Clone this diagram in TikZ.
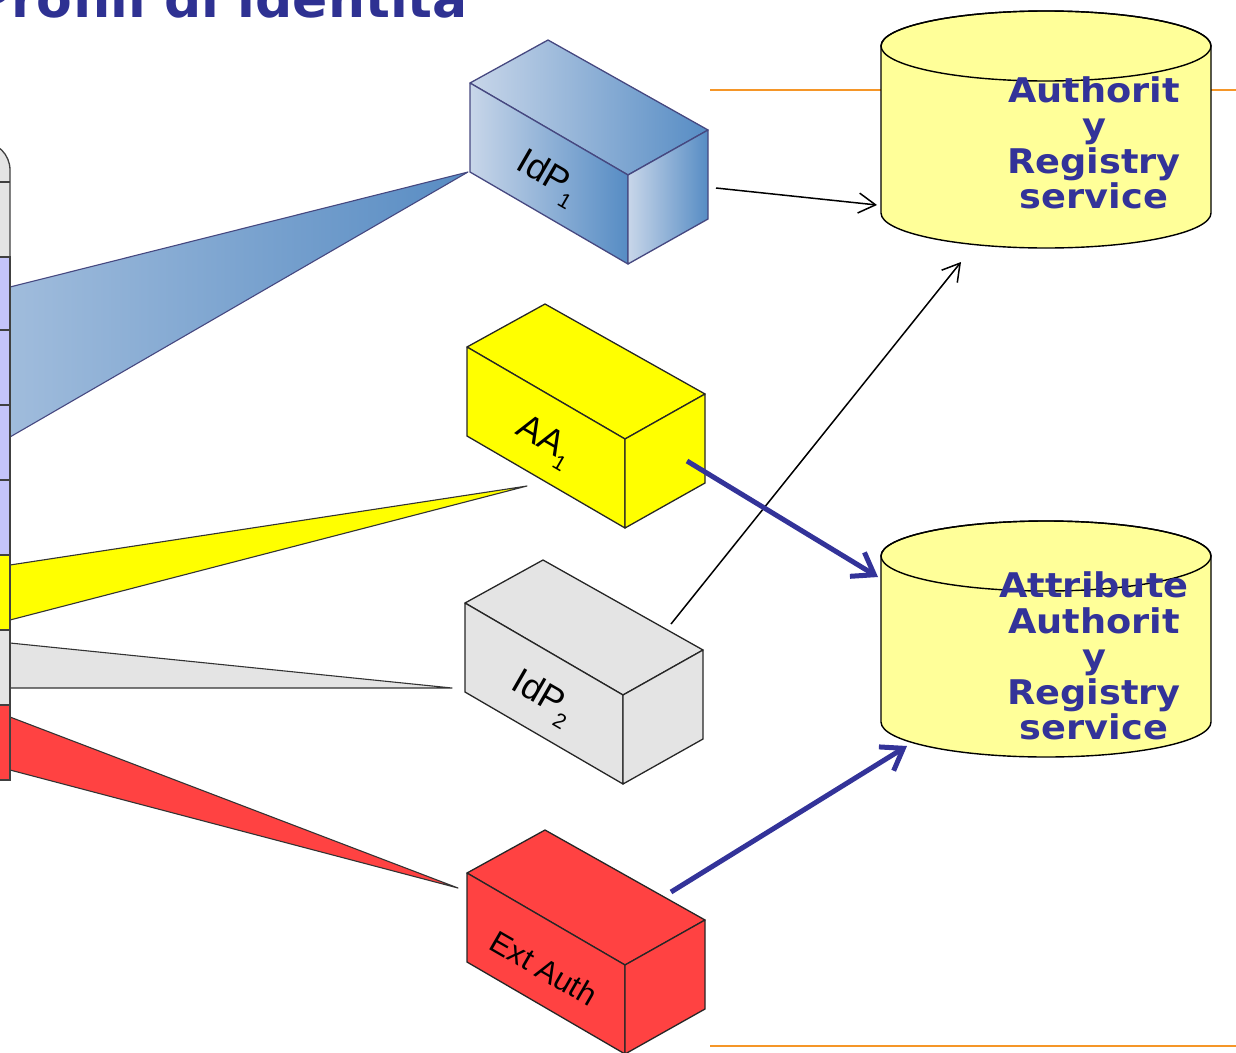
\documentclass[tikz,border=0pt]{standalone}
\usepackage{fontspec}
\setmainfont{Liberation Sans}
\newfontfamily\dvfont{DejaVu Sans}[FakeStretch=1.08]
\newfontfamily\dvtitle{DejaVu Sans}
\usetikzlibrary{arrows.meta}
\definecolor{titleblue}{RGB}{46,49,146}
\definecolor{regblue}{RGB}{51,51,153}
\definecolor{cylfill}{RGB}{255,255,153}
\definecolor{orangeline}{RGB}{245,150,40}
\definecolor{lav}{RGB}{196,196,250}
\definecolor{colgray}{RGB}{228,228,228}
\definecolor{redfill}{RGB}{255,66,66}
\definecolor{yel}{RGB}{255,255,0}
\definecolor{idplight}{RGB}{200,214,233}
\definecolor{idpdark}{RGB}{86,140,196}
\definecolor{idpedge}{RGB}{70,72,128}
\definecolor{wedgelight}{RGB}{160,188,220}
\definecolor{wedgedark}{RGB}{88,140,195}
\definecolor{arrowblue}{RGB}{51,51,153}
\newcommand{\isobox}[6]{% name, x, y, face style, label, label size
  \begin{scope}[shift={(#2,#3)}]
    \path[boxedge,#4] (0,0) -- (78,-43) -- (238,47) -- (158,92) -- cycle;
    \path[boxedge,#4] (0,0) -- (158,92) -- (158,181) -- (0,89) -- cycle;
    \path[boxedge,#4] (158,92) -- (238,47) -- (238,136) -- (158,181) -- cycle;
    \node[boxlabel, font=\fontsize{#6}{#6}\selectfont] (#1) at (77,95) {#5};
  \end{scope}}
\newcommand{\regcyl}[3]{% name, top centre y, bottom centre y
  \path[cylbody] (881,#2) -- (881,#3)
    arc[start angle=180, end angle=0, x radius=165, y radius=35]
    -- (1211,#2)
    arc[start angle=0, end angle=-180, x radius=165, y radius=35] -- cycle;
  \draw[cylline] (1046,#2) ellipse [x radius=165, y radius=35];
  \coordinate (#1) at (1046,#2);}
\newcommand{\subnum}[1]{\raisebox{-0.3em}{\fontsize{21}{21}\selectfont #1}}
\begin{document}
\begin{tikzpicture}[x=1pt,y=-1pt,
  titletext/.style={text=titleblue, font=\dvtitle\bfseries\fontsize{52}{60}\selectfont, inner sep=0pt},
  regtext/.style={text=regblue, font=\dvfont\bfseries\fontsize{34}{35.5}\selectfont, align=center, inner sep=0pt},
  boxedge/.style={draw=black!85, line width=1.3, line join=round},
  boxlabel/.style={rotate=-30, inner sep=0pt, text=black},
  cylbody/.style={fill=cylfill, draw=black, line width=1.4},
  cylline/.style={draw=black, line width=1.4},
  orange/.style={draw=orangeline, line width=2.8},
  colseg/.style={draw=black!75, line width=1.3},
  wedge/.style={draw=black!80, line width=1.1, line join=round},
  thinarrow/.style={draw=black, line width=1.5, -{Straight Barb[length=17pt,width=20pt]}},
  thickarrow/.style={draw=arrowblue, line width=5, -{Straight Barb[length=20pt,width=28pt]}}]
\useasboundingbox (0,0) rectangle (1236,1052);
\clip (0,0) rectangle (1236,1052);

% title
\node[titletext, anchor=base east] (title) at (468,17) {Profili di identità};

% orange rules
\draw[orange] (710,90) -- (1236,90);
\draw[orange] (710,1046) -- (1236,1046);

% registries
\regcyl{reg1}{46}{213}
\regcyl{reg2}{556}{722}
\node[regtext] (reg1text) at (1094,143) {Authorit\\y\\Registry\\service};
\node[regtext] (reg2text) at (1094,656) {Attribute\\Authorit\\y\\Registry\\service};

% wedges
\path[wedge, draw=idpedge, left color=wedgelight, right color=wedgedark] (10,287) -- (468,172) -- (10,437) -- cycle;
\path[wedge, fill=yel] (10,565) -- (527,486) -- (10,620) -- cycle;
\path[wedge, fill=colgray] (10,643) -- (452,688) -- (10,688) -- cycle;
\path[wedge, fill=redfill] (10,717) -- (458,888) -- (10,770) -- cycle;

% left column
\path[colseg, fill=colgray, rounded corners=28] (-60,142) rectangle (10,320);
\draw[colseg] (-60,182) -- (10,182);
\foreach \a/\b/\c in {257/330/lav, 330/405/lav, 405/480/lav, 480/555/lav, 555/630/yel, 630/705/colgray, 705/780/redfill}
  \path[colseg, fill=\c] (-60,\a) rectangle (10,\b);

% boxes
\isobox{idp1}{470}{83}{draw=idpedge, left color=idplight, right color=idpdark}{IdP\subnum{1}}{36}
\isobox{aa1}{467}{347}{fill=yel}{AA\subnum{1}}{36}
\isobox{idp2}{465}{603}{fill=colgray}{IdP\subnum{2}}{36}
\isobox{ext}{467}{873}{fill=redfill}{Ext Auth}{31}

% connector end points
\coordinate (idp1out) at (716,188);
\coordinate (reg1in) at (877,205);
\coordinate (idp2out) at (671,624);
\coordinate (reg1low) at (961,262);
\coordinate (aa1out) at (687,461);
\coordinate (reg2in) at (878,577);
\coordinate (extout) at (671,892);
\coordinate (reg2low) at (907,746);

% connectors
\draw[thinarrow] (idp1out) -- (reg1in);
\draw[thinarrow] (idp2out) -- (reg1low);
\draw[thickarrow] (aa1out) -- (reg2in);
\draw[thickarrow] (extout) -- (reg2low);
\end{tikzpicture}
\end{document}
